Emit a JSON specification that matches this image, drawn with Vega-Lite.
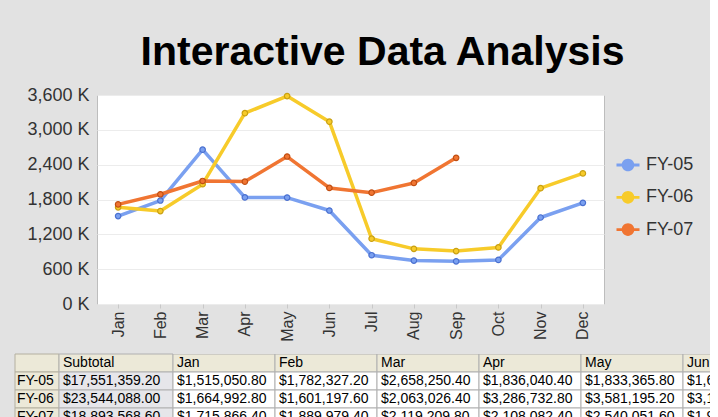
{
  "$schema": "https://vega.github.io/schema/vega-lite/v6.json",
  "background": "#e2e2e2",
  "padding": {"left": 14, "top": 31, "right": 0, "bottom": 0},
  "autosize": {"type": "pad"},
  "config": {"font": "Liberation Sans"},
  "spacing": 0,
  "resolve": {"scale": {"x": "independent", "y": "independent", "color": "independent"}, "legend": {"color": "independent"}},
  "datasets": {
    "sales": [
      {"fy": "FY-05", "month": "Jan", "value": 1515050.8},
      {"fy": "FY-05", "month": "Feb", "value": 1782327.2},
      {"fy": "FY-05", "month": "Mar", "value": 2658250.4},
      {"fy": "FY-05", "month": "Apr", "value": 1836040.4},
      {"fy": "FY-05", "month": "May", "value": 1833365.8},
      {"fy": "FY-05", "month": "Jun", "value": 1610000},
      {"fy": "FY-05", "month": "Jul", "value": 840000},
      {"fy": "FY-05", "month": "Aug", "value": 748000},
      {"fy": "FY-05", "month": "Sep", "value": 735000},
      {"fy": "FY-05", "month": "Oct", "value": 760000},
      {"fy": "FY-05", "month": "Nov", "value": 1490000},
      {"fy": "FY-05", "month": "Dec", "value": 1743324.6},
      {"fy": "FY-06", "month": "Jan", "value": 1664992.8},
      {"fy": "FY-06", "month": "Feb", "value": 1601197.6},
      {"fy": "FY-06", "month": "Mar", "value": 2063026.4},
      {"fy": "FY-06", "month": "Apr", "value": 3286732.8},
      {"fy": "FY-06", "month": "May", "value": 3581195.2},
      {"fy": "FY-06", "month": "Jun", "value": 3140000},
      {"fy": "FY-06", "month": "Jul", "value": 1125000},
      {"fy": "FY-06", "month": "Aug", "value": 950000},
      {"fy": "FY-06", "month": "Sep", "value": 912000},
      {"fy": "FY-06", "month": "Oct", "value": 975000},
      {"fy": "FY-06", "month": "Nov", "value": 1995000},
      {"fy": "FY-06", "month": "Dec", "value": 2249943.2},
      {"fy": "FY-07", "month": "Jan", "value": 1715866.4},
      {"fy": "FY-07", "month": "Feb", "value": 1889979.4},
      {"fy": "FY-07", "month": "Mar", "value": 2119209.8},
      {"fy": "FY-07", "month": "Apr", "value": 2108082.4},
      {"fy": "FY-07", "month": "May", "value": 2540051.6},
      {"fy": "FY-07", "month": "Jun", "value": 1999000},
      {"fy": "FY-07", "month": "Jul", "value": 1918000},
      {"fy": "FY-07", "month": "Aug", "value": 2085000},
      {"fy": "FY-07", "month": "Sep", "value": 2518379}
    ],
    "tlabels": [
      {"row": "hdr", "col": "lbl", "t": ""},
      {"row": "FY-05", "col": "lbl", "t": "FY-05"},
      {"row": "FY-06", "col": "lbl", "t": "FY-06"},
      {"row": "FY-07", "col": "lbl", "t": "FY-07"}
    ],
    "tsub": [
      {"row": "hdr", "col": "Subtotal", "t": "Subtotal"},
      {"row": "FY-05", "col": "Subtotal", "t": "$17,551,359.20"},
      {"row": "FY-06", "col": "Subtotal", "t": "$23,544,088.00"},
      {"row": "FY-07", "col": "Subtotal", "t": "$18,893,568.60"}
    ],
    "tmonths": [
      {"row": "hdr", "col": "Jan", "t": "Jan"},
      {"row": "hdr", "col": "Feb", "t": "Feb"},
      {"row": "hdr", "col": "Mar", "t": "Mar"},
      {"row": "hdr", "col": "Apr", "t": "Apr"},
      {"row": "hdr", "col": "May", "t": "May"},
      {"row": "hdr", "col": "Jun", "t": "Jun"},
      {"row": "FY-05", "col": "Jan", "t": "$1,515,050.80"},
      {"row": "FY-05", "col": "Feb", "t": "$1,782,327.20"},
      {"row": "FY-05", "col": "Mar", "t": "$2,658,250.40"},
      {"row": "FY-05", "col": "Apr", "t": "$1,836,040.40"},
      {"row": "FY-05", "col": "May", "t": "$1,833,365.80"},
      {"row": "FY-05", "col": "Jun", "t": "$1,610,000.00"},
      {"row": "FY-06", "col": "Jan", "t": "$1,664,992.80"},
      {"row": "FY-06", "col": "Feb", "t": "$1,601,197.60"},
      {"row": "FY-06", "col": "Mar", "t": "$2,063,026.40"},
      {"row": "FY-06", "col": "Apr", "t": "$3,286,732.80"},
      {"row": "FY-06", "col": "May", "t": "$3,581,195.20"},
      {"row": "FY-06", "col": "Jun", "t": "$3,140,000.00"},
      {"row": "FY-07", "col": "Jan", "t": "$1,715,866.40"},
      {"row": "FY-07", "col": "Feb", "t": "$1,889,979.40"},
      {"row": "FY-07", "col": "Mar", "t": "$2,119,209.80"},
      {"row": "FY-07", "col": "Apr", "t": "$2,108,082.40"},
      {"row": "FY-07", "col": "May", "t": "$2,540,051.60"},
      {"row": "FY-07", "col": "Jun", "t": "$1,999,000.00"}
    ]
  },
  "vconcat": [
    {
      "width": 507,
      "height": 209,
      "title": {"text": "Interactive Data Analysis", "fontSize": 41, "fontWeight": "bold", "color": "#000000", "anchor": "middle", "frame": "group", "dx": 32, "offset": 12},
      "data": {"name": "sales"},
      "view": {"fill": "white", "stroke": "#bdbdbd"},
      "resolve": {"scale": {"stroke": "independent"}},
      "encoding": {
        "x": {
          "field": "month", "type": "nominal",
          "sort": ["Jan", "Feb", "Mar", "Apr", "May", "Jun", "Jul", "Aug", "Sep", "Oct", "Nov", "Dec"],
          "scale": {"domain": ["Jan", "Feb", "Mar", "Apr", "May", "Jun", "Jul", "Aug", "Sep", "Oct", "Nov", "Dec"]},
          "axis": {"title": null, "labelAngle": -90, "labelAlign": "right", "labelBaseline": "middle", "labelFontSize": 16, "labelColor": "#333333", "tickColor": "#c8c8c8", "tickSize": 4, "labelPadding": 3, "domain": false, "grid": false, "minExtent": 48, "maxExtent": 48}
        },
        "y": {
          "field": "value", "type": "quantitative",
          "scale": {"domain": [0, 3600000], "nice": false},
          "axis": {"title": null, "values": [0, 600000, 1200000, 1800000, 2400000, 3000000, 3600000], "labelExpr": "format(datum.value / 1000, ',') + ' K'", "labelFontSize": 18, "labelColor": "#333333", "ticks": false, "domain": false, "labelPadding": 8, "labelFlush": false, "minExtent": 82, "maxExtent": 82, "gridColor": "#ececec"}
        }
      },
      "layer": [
        {
          "mark": {"type": "line", "strokeWidth": 3.5, "strokeJoin": "round"},
          "encoding": {
            "stroke": {"field": "fy", "type": "nominal", "scale": {"domain": ["FY-05", "FY-06", "FY-07"], "range": ["#7aa0f0", "#f7cb2a", "#f07532"]}, "legend": null}
          }
        },
        {
          "mark": {"type": "point", "filled": true, "size": 30, "strokeWidth": 1.2, "opacity": 1},
          "encoding": {
            "color": {
              "field": "fy", "type": "nominal",
              "scale": {"domain": ["FY-05", "FY-06", "FY-07"], "range": ["#7aa0f0", "#f7cb2a", "#f07532"]},
              "legend": {"orient": "none", "legendX": 519, "legendY": 58, "title": null, "padding": 0, "labelFontSize": 18, "labelColor": "#333333", "labelOffset": 6, "rowPadding": 11.3, "symbolType": "M-1,-0.12L1,-0.12L1,0.12L-1,0.12Z M-0.55,0 A0.55,0.55 0 1,1 0.55,0 A0.55,0.55 0 1,1 -0.55,0 Z", "symbolSize": 530, "symbolStrokeWidth": 0}
            },
            "stroke": {"field": "fy", "type": "nominal", "scale": {"domain": ["FY-05", "FY-06", "FY-07"], "range": ["#4a70d0", "#c9a012", "#c04e12"]}, "legend": null}
          }
        }
      ]
    },
    {
      "width": 613,
      "height": 72,
      "view": {"stroke": null},
      "resolve": {"scale": {"x": "independent"}},
      "layer": [
        {
          "data": {"name": "tlabels"},
          "encoding": {
            "y": {"field": "row", "type": "nominal", "sort": null, "scale": {"domain": ["hdr", "FY-05", "FY-06", "FY-07"], "paddingInner": 0, "paddingOuter": 0}, "axis": null},
            "x": {"field": "col", "type": "nominal", "sort": null, "scale": {"domain": ["lbl"], "range": [-82, -38], "paddingInner": 0, "paddingOuter": 0}, "axis": null}
          },
          "layer": [
            {"mark": {"type": "rect", "fill": "#ece9d8", "stroke": "#b4b0a0", "strokeWidth": 1}, "encoding": {}},
            {"mark": {"type": "text", "align": "left", "dx": 2, "fontSize": 14, "color": "#000000"}, "encoding": {"text": {"field": "t"}, "x": {"field": "col", "type": "nominal", "sort": null, "bandPosition": 0, "axis": null}}}
          ]
        },
        {
          "data": {"name": "tsub"},
          "encoding": {
            "y": {"field": "row", "type": "nominal", "sort": null, "scale": {"domain": ["hdr", "FY-05", "FY-06", "FY-07"], "paddingInner": 0, "paddingOuter": 0}, "axis": null},
            "x": {"field": "col", "type": "nominal", "sort": null, "scale": {"domain": ["Subtotal"], "range": [-38, 76], "paddingInner": 0, "paddingOuter": 0}, "axis": null}
          },
          "layer": [
            {"mark": {"type": "rect", "stroke": "#b0b0b0", "strokeWidth": 1}, "encoding": {"fill": {"condition": {"test": "datum.row === 'hdr'", "value": "#ece9d8"}, "value": "#e6e6ea"}}},
            {"mark": {"type": "text", "align": "left", "dx": 4, "fontSize": 14, "color": "#000000"}, "encoding": {"text": {"field": "t"}, "x": {"field": "col", "type": "nominal", "sort": null, "bandPosition": 0, "axis": null}}}
          ]
        },
        {
          "data": {"name": "tmonths"},
          "encoding": {
            "y": {"field": "row", "type": "nominal", "sort": null, "scale": {"domain": ["hdr", "FY-05", "FY-06", "FY-07"], "paddingInner": 0, "paddingOuter": 0}, "axis": null},
            "x": {"field": "col", "type": "nominal", "sort": null, "scale": {"domain": ["Jan", "Feb", "Mar", "Apr", "May", "Jun"], "range": [76, 688], "paddingInner": 0, "paddingOuter": 0}, "axis": null}
          },
          "layer": [
            {"mark": {"type": "rect", "stroke": "#b0b0b0", "strokeWidth": 1, "clip": true}, "encoding": {"fill": {"condition": {"test": "datum.row === 'hdr'", "value": "#ece9d8"}, "value": "#ffffff"}}},
            {"mark": {"type": "text", "align": "left", "dx": 4, "fontSize": 14, "color": "#000000", "clip": true}, "encoding": {"text": {"field": "t"}, "x": {"field": "col", "type": "nominal", "sort": null, "bandPosition": 0, "axis": null}}}
          ]
        }
      ]
    }
  ]
}
